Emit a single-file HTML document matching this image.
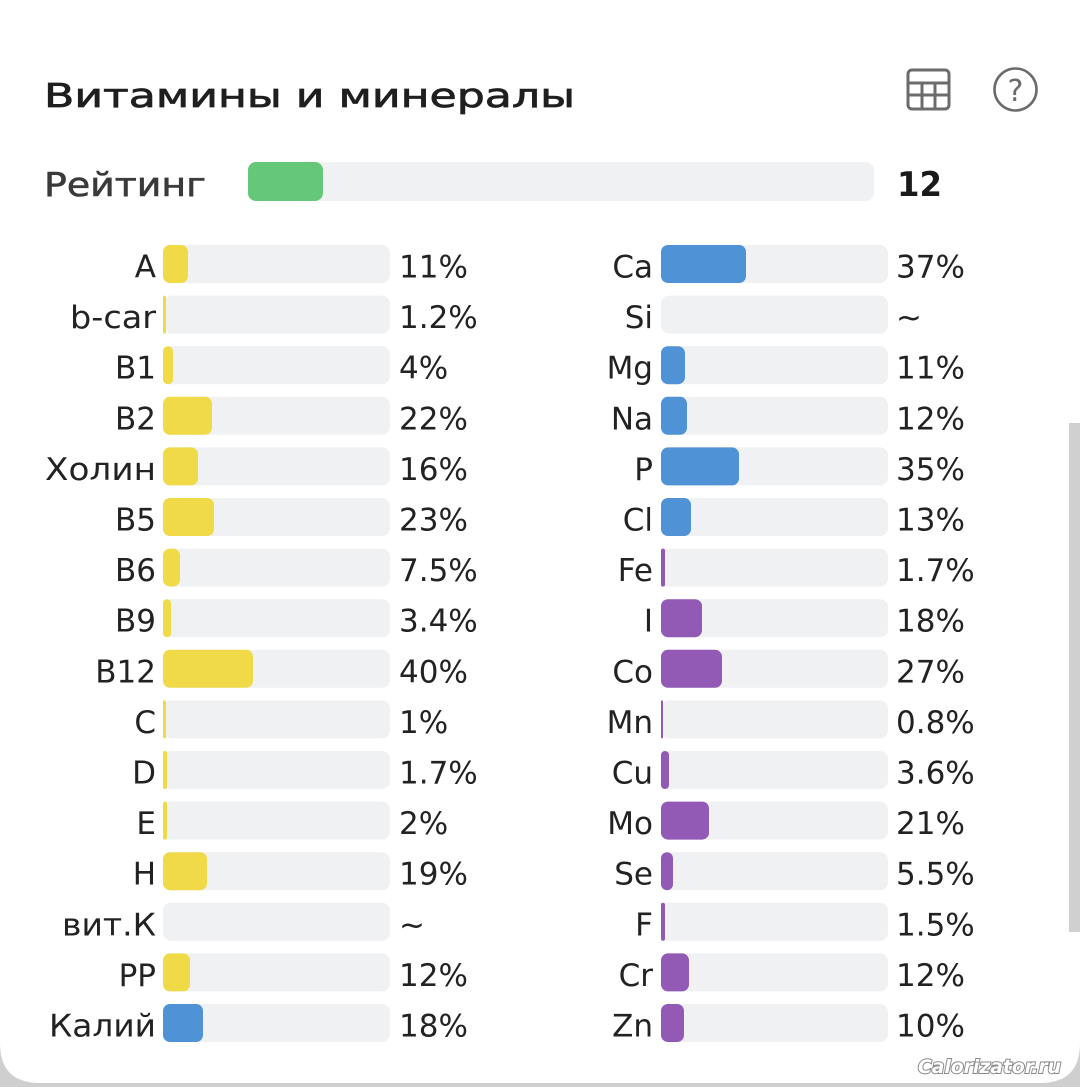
<!DOCTYPE html>
<html><head><meta charset="utf-8"><style>
html,body{margin:0;padding:0;background:#fff;}
svg{display:block;}
text{font-family:"DejaVu Sans","Liberation Sans",sans-serif;}
</style></head><body>
<svg width="1080" height="1087" viewBox="0 0 1080 1087" xmlns="http://www.w3.org/2000/svg">
<rect x="0" y="0" width="1080" height="1087" fill="#cfcfcf"/>
<path d="M0,0 H1080 V1043 Q1080,1083 1040,1083 H40 Q0,1083 0,1043 Z" fill="#ffffff"/>
<rect x="1069" y="423" width="11" height="509" fill="#d0d0d0"/>

<!-- Title -->
<text x="44" y="107" font-size="33" fill="#1f1f1f" stroke="#1f1f1f" stroke-width="0.7" textLength="531" lengthAdjust="spacingAndGlyphs">Витамины и минералы</text>

<!-- Icons -->
<g fill="none" stroke="#6b6b6b" stroke-width="3">
<rect x="908" y="70" width="41" height="39" rx="4"/>
<line x1="908" y1="83" x2="949" y2="83"/>
<line x1="908" y1="95" x2="949" y2="95"/>
<line x1="922" y1="83" x2="922" y2="109"/>
<line x1="935" y1="83" x2="935" y2="109"/>
<circle cx="1015.5" cy="89.5" r="21" stroke-width="2.6"/>
</g>
<text x="1015.5" y="101" font-size="30" fill="#6b6b6b" text-anchor="middle">?</text>

<!-- Rating -->
<text x="44" y="196" font-size="33" fill="#3a3a3a" stroke="#3a3a3a" stroke-width="0.6" textLength="162" lengthAdjust="spacingAndGlyphs">Рейтинг</text>
<rect x="248" y="162" width="626" height="39" rx="8" fill="#f0f1f3"/>
<rect x="248" y="162" width="75" height="39" rx="8" fill="#64c878"/>
<text x="897" y="196" font-size="34" font-weight="bold" fill="#1a1a1a" textLength="45" lengthAdjust="spacingAndGlyphs">12</text>

<g font-size="31" fill="#222">
<!-- Left column -->
<g transform="translate(0,245)"><rect x="163" y="0" width="227" height="38" rx="8" fill="#f0f1f3"/><rect x="163" y="0" width="25" height="38" rx="7" fill="#f0da48"/><text x="156" y="32.5" text-anchor="end">A</text><text x="399" y="32.5">11%</text></g>
<g transform="translate(0,295.6)"><rect x="163" y="0" width="227" height="38" rx="8" fill="#f0f1f3"/><rect x="163" y="0" width="3" height="38" rx="1.5" fill="#f0da48"/><text x="156" y="32.5" text-anchor="end" textLength="86" lengthAdjust="spacingAndGlyphs">b-car</text><text x="399" y="32.5">1.2%</text></g>
<g transform="translate(0,346.2)"><rect x="163" y="0" width="227" height="38" rx="8" fill="#f0f1f3"/><rect x="163" y="0" width="10" height="38" rx="5" fill="#f0da48"/><text x="156" y="32.5" text-anchor="end">B1</text><text x="399" y="32.5">4%</text></g>
<g transform="translate(0,396.8)"><rect x="163" y="0" width="227" height="38" rx="8" fill="#f0f1f3"/><rect x="163" y="0" width="49" height="38" rx="7" fill="#f0da48"/><text x="156" y="32.5" text-anchor="end">B2</text><text x="399" y="32.5">22%</text></g>
<g transform="translate(0,447.4)"><rect x="163" y="0" width="227" height="38" rx="8" fill="#f0f1f3"/><rect x="163" y="0" width="35" height="38" rx="7" fill="#f0da48"/><text x="156" y="32.5" text-anchor="end" textLength="111" lengthAdjust="spacingAndGlyphs">Холин</text><text x="399" y="32.5">16%</text></g>
<g transform="translate(0,498)"><rect x="163" y="0" width="227" height="38" rx="8" fill="#f0f1f3"/><rect x="163" y="0" width="51" height="38" rx="7" fill="#f0da48"/><text x="156" y="32.5" text-anchor="end">B5</text><text x="399" y="32.5">23%</text></g>
<g transform="translate(0,548.6)"><rect x="163" y="0" width="227" height="38" rx="8" fill="#f0f1f3"/><rect x="163" y="0" width="17" height="38" rx="7" fill="#f0da48"/><text x="156" y="32.5" text-anchor="end">B6</text><text x="399" y="32.5">7.5%</text></g>
<g transform="translate(0,599.2)"><rect x="163" y="0" width="227" height="38" rx="8" fill="#f0f1f3"/><rect x="163" y="0" width="8" height="38" rx="4" fill="#f0da48"/><text x="156" y="32.5" text-anchor="end">B9</text><text x="399" y="32.5">3.4%</text></g>
<g transform="translate(0,649.8)"><rect x="163" y="0" width="227" height="38" rx="8" fill="#f0f1f3"/><rect x="163" y="0" width="90" height="38" rx="7" fill="#f0da48"/><text x="156" y="32.5" text-anchor="end">B12</text><text x="399" y="32.5">40%</text></g>
<g transform="translate(0,700.4)"><rect x="163" y="0" width="227" height="38" rx="8" fill="#f0f1f3"/><rect x="163" y="0" width="3" height="38" rx="1.5" fill="#f0da48"/><text x="156" y="32.5" text-anchor="end">C</text><text x="399" y="32.5">1%</text></g>
<g transform="translate(0,751)"><rect x="163" y="0" width="227" height="38" rx="8" fill="#f0f1f3"/><rect x="163" y="0" width="4" height="38" rx="2" fill="#f0da48"/><text x="156" y="32.5" text-anchor="end">D</text><text x="399" y="32.5">1.7%</text></g>
<g transform="translate(0,801.6)"><rect x="163" y="0" width="227" height="38" rx="8" fill="#f0f1f3"/><rect x="163" y="0" width="4" height="38" rx="2" fill="#f0da48"/><text x="156" y="32.5" text-anchor="end">E</text><text x="399" y="32.5">2%</text></g>
<g transform="translate(0,852.2)"><rect x="163" y="0" width="227" height="38" rx="8" fill="#f0f1f3"/><rect x="163" y="0" width="44" height="38" rx="7" fill="#f0da48"/><text x="156" y="32.5" text-anchor="end">H</text><text x="399" y="32.5">19%</text></g>
<g transform="translate(0,902.8)"><rect x="163" y="0" width="227" height="38" rx="8" fill="#f0f1f3"/><text x="156" y="32.5" text-anchor="end" textLength="94" lengthAdjust="spacingAndGlyphs">вит.К</text><text x="399" y="32.5">~</text></g>
<g transform="translate(0,953.4)"><rect x="163" y="0" width="227" height="38" rx="8" fill="#f0f1f3"/><rect x="163" y="0" width="27" height="38" rx="7" fill="#f0da48"/><text x="156" y="32.5" text-anchor="end">PP</text><text x="399" y="32.5">12%</text></g>
<g transform="translate(0,1004)"><rect x="163" y="0" width="227" height="38" rx="8" fill="#f0f1f3"/><rect x="163" y="0" width="40" height="38" rx="7" fill="#4f93d6"/><text x="156" y="32.5" text-anchor="end" textLength="107" lengthAdjust="spacingAndGlyphs">Калий</text><text x="399" y="32.5">18%</text></g>

<!-- Right column -->
<g transform="translate(0,245)"><rect x="661" y="0" width="227" height="38" rx="8" fill="#f0f1f3"/><rect x="661" y="0" width="85" height="38" rx="7" fill="#4f93d6"/><text x="653" y="32.5" text-anchor="end">Ca</text><text x="896" y="32.5">37%</text></g>
<g transform="translate(0,295.6)"><rect x="661" y="0" width="227" height="38" rx="8" fill="#f0f1f3"/><text x="653" y="32.5" text-anchor="end">Si</text><text x="896" y="32.5">~</text></g>
<g transform="translate(0,346.2)"><rect x="661" y="0" width="227" height="38" rx="8" fill="#f0f1f3"/><rect x="661" y="0" width="24" height="38" rx="7" fill="#4f93d6"/><text x="653" y="32.5" text-anchor="end">Mg</text><text x="896" y="32.5">11%</text></g>
<g transform="translate(0,396.8)"><rect x="661" y="0" width="227" height="38" rx="8" fill="#f0f1f3"/><rect x="661" y="0" width="26" height="38" rx="7" fill="#4f93d6"/><text x="653" y="32.5" text-anchor="end">Na</text><text x="896" y="32.5">12%</text></g>
<g transform="translate(0,447.4)"><rect x="661" y="0" width="227" height="38" rx="8" fill="#f0f1f3"/><rect x="661" y="0" width="78" height="38" rx="7" fill="#4f93d6"/><text x="653" y="32.5" text-anchor="end">P</text><text x="896" y="32.5">35%</text></g>
<g transform="translate(0,498)"><rect x="661" y="0" width="227" height="38" rx="8" fill="#f0f1f3"/><rect x="661" y="0" width="30" height="38" rx="7" fill="#4f93d6"/><text x="653" y="32.5" text-anchor="end">Cl</text><text x="896" y="32.5">13%</text></g>
<g transform="translate(0,548.6)"><rect x="661" y="0" width="227" height="38" rx="8" fill="#f0f1f3"/><rect x="661" y="0" width="4" height="38" rx="2" fill="#9259b5"/><text x="653" y="32.5" text-anchor="end">Fe</text><text x="896" y="32.5">1.7%</text></g>
<g transform="translate(0,599.2)"><rect x="661" y="0" width="227" height="38" rx="8" fill="#f0f1f3"/><rect x="661" y="0" width="41" height="38" rx="7" fill="#9259b5"/><text x="653" y="32.5" text-anchor="end">I</text><text x="896" y="32.5">18%</text></g>
<g transform="translate(0,649.8)"><rect x="661" y="0" width="227" height="38" rx="8" fill="#f0f1f3"/><rect x="661" y="0" width="61" height="38" rx="7" fill="#9259b5"/><text x="653" y="32.5" text-anchor="end">Co</text><text x="896" y="32.5">27%</text></g>
<g transform="translate(0,700.4)"><rect x="661" y="0" width="227" height="38" rx="8" fill="#f0f1f3"/><rect x="661" y="0" width="2" height="38" rx="1" fill="#9259b5"/><text x="653" y="32.5" text-anchor="end">Mn</text><text x="896" y="32.5">0.8%</text></g>
<g transform="translate(0,751)"><rect x="661" y="0" width="227" height="38" rx="8" fill="#f0f1f3"/><rect x="661" y="0" width="8" height="38" rx="4" fill="#9259b5"/><text x="653" y="32.5" text-anchor="end">Cu</text><text x="896" y="32.5">3.6%</text></g>
<g transform="translate(0,801.6)"><rect x="661" y="0" width="227" height="38" rx="8" fill="#f0f1f3"/><rect x="661" y="0" width="48" height="38" rx="7" fill="#9259b5"/><text x="653" y="32.5" text-anchor="end">Mo</text><text x="896" y="32.5">21%</text></g>
<g transform="translate(0,852.2)"><rect x="661" y="0" width="227" height="38" rx="8" fill="#f0f1f3"/><rect x="661" y="0" width="12" height="38" rx="6" fill="#9259b5"/><text x="653" y="32.5" text-anchor="end">Se</text><text x="896" y="32.5">5.5%</text></g>
<g transform="translate(0,902.8)"><rect x="661" y="0" width="227" height="38" rx="8" fill="#f0f1f3"/><rect x="661" y="0" width="4" height="38" rx="2" fill="#9259b5"/><text x="653" y="32.5" text-anchor="end">F</text><text x="896" y="32.5">1.5%</text></g>
<g transform="translate(0,953.4)"><rect x="661" y="0" width="227" height="38" rx="8" fill="#f0f1f3"/><rect x="661" y="0" width="28" height="38" rx="7" fill="#9259b5"/><text x="653" y="32.5" text-anchor="end">Cr</text><text x="896" y="32.5">12%</text></g>
<g transform="translate(0,1004)"><rect x="661" y="0" width="227" height="38" rx="8" fill="#f0f1f3"/><rect x="661" y="0" width="23" height="38" rx="7" fill="#9259b5"/><text x="653" y="32.5" text-anchor="end">Zn</text><text x="896" y="32.5">10%</text></g>
</g>

<!-- Watermark -->
<text x="918" y="1073" font-size="19" font-weight="bold" font-style="italic" fill="#ffffff" stroke="#8a8a8a" stroke-width="2" paint-order="stroke" textLength="143" lengthAdjust="spacingAndGlyphs">Calorizator.ru</text>
</svg>
</body></html>
